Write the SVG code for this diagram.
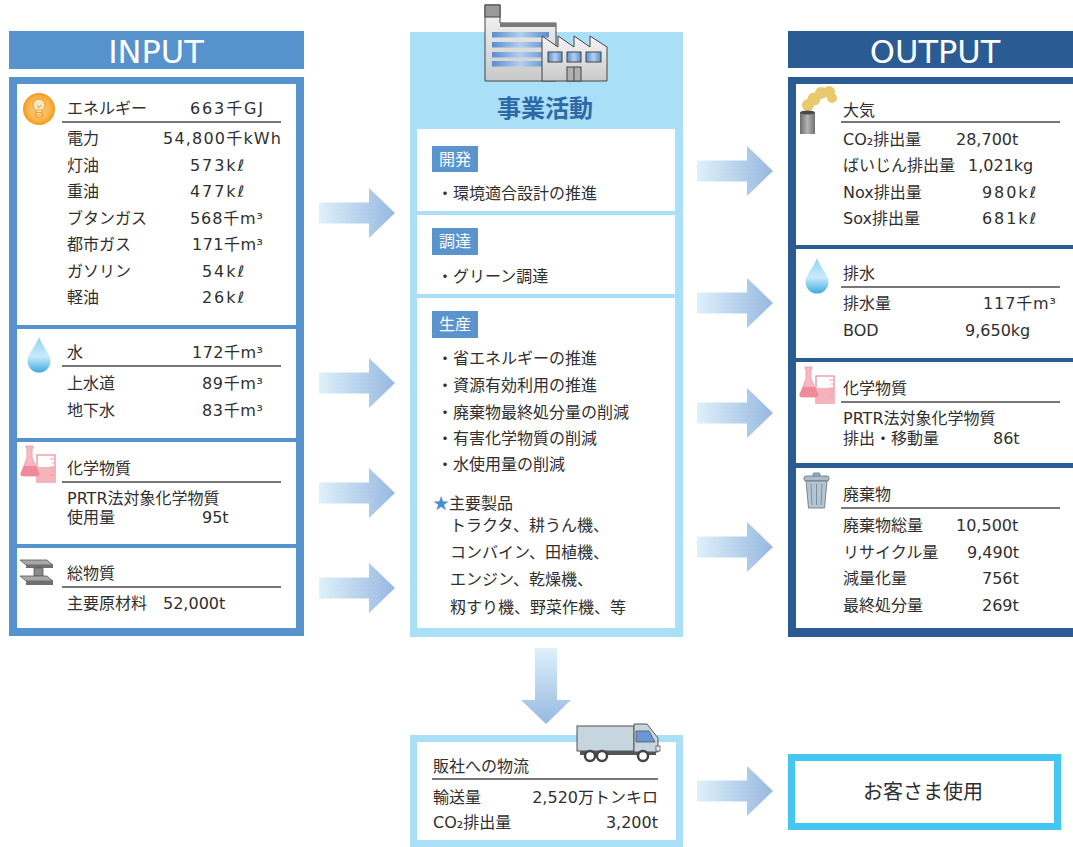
<svg xmlns="http://www.w3.org/2000/svg" width="1073" height="847" viewBox="0 0 1073 847">
  <style>
    .t { font-family: "DejaVu Sans", "Noto Sans CJK JP", sans-serif; font-size: 16px; fill: #2f2f2f; }
    .hd { font-family: "DejaVu Sans", "Noto Sans CJK JP", sans-serif; font-size: 32px; fill: #ffffff; text-anchor: middle; }
    .lbl { font-family: "Noto Sans CJK JP", sans-serif; font-size: 16px; fill: #ffffff; text-anchor: middle; }
    .rule { stroke: #4a4a4a; stroke-width: 1.3; }
    .in-panel { fill: #5692cc; }
    .out-panel { fill: #2b5b93; }
    .mid-panel { fill: #aadff8; }
    .box { fill: #ffffff; }
    .tag { fill: #5b93cc; }
  </style>
  <defs>
    <linearGradient id="gh" x1="0" y1="0" x2="1" y2="0">
      <stop offset="0" stop-color="#def1fb"/>
      <stop offset="1" stop-color="#97b8e0"/>
    </linearGradient>
    <linearGradient id="gv" x1="0" y1="0" x2="0" y2="1">
      <stop offset="0" stop-color="#def1fb"/>
      <stop offset="1" stop-color="#97b8e0"/>
    </linearGradient>
    <linearGradient id="dropG" x1="0" y1="0" x2="0" y2="1">
      <stop offset="0" stop-color="#8fd3f4"/>
      <stop offset="0.55" stop-color="#c8ebfb"/>
      <stop offset="1" stop-color="#3fa9de"/>
    </linearGradient>
    <radialGradient id="bulbG" cx="0.5" cy="0.5" r="0.5">
      <stop offset="0" stop-color="#fcd088"/>
      <stop offset="0.7" stop-color="#f8b548"/>
      <stop offset="1" stop-color="#f29a1c"/>
    </radialGradient>
    <linearGradient id="bldG" x1="0" y1="0" x2="0" y2="1">
      <stop offset="0" stop-color="#f6f6f6"/>
      <stop offset="1" stop-color="#c9c9c9"/>
    </linearGradient>
    <linearGradient id="winG" x1="0" y1="0" x2="1" y2="0">
      <stop offset="0" stop-color="#5a8ed0"/>
      <stop offset="0.5" stop-color="#b3cff0"/>
      <stop offset="1" stop-color="#5a8ed0"/>
    </linearGradient>
    <linearGradient id="chimG" x1="0" y1="0" x2="1" y2="0">
      <stop offset="0" stop-color="#6c6c6c"/>
      <stop offset="0.5" stop-color="#b4b4b4"/>
      <stop offset="1" stop-color="#707070"/>
    </linearGradient>
    <!-- flat arrow pointing right, origin at shaft start / centre line -->
    <path id="arr" d="M0,-10.5 H50 V-25 L76,0 L50,25 V10.5 H0 Z"/>
    <!-- water drop, origin at tip -->
    <path id="drop" d="M0,0 C-3,9 -11.5,17 -11.5,24 A11.5,11.5 0 0 0 11.5,24 C11.5,17 3,9 0,0 Z" fill="url(#dropG)"/>
    <!-- flask and beaker -->
    <g id="flask">
      <rect x="16" y="9" width="18" height="27" fill="#ffffff" stroke="#f1a0ab" stroke-width="1.5"/>
      <rect x="16" y="21" width="18" height="15" fill="#f5b3bc"/>
      <path d="M29,13 H34 M31,17 H34 M29,21 H34 M31,25 H34 M29,29 H34" stroke="#f1a0ab" stroke-width="1"/>
      <path d="M5,0 H12 V2 H11 V12 L18,27 Q19,30 16,30 H2 Q-1,30 0,27 L6,12 V2 H5 Z" fill="#f6b9c1" stroke="#f1a0ab" stroke-width="1"/>
      <path d="M3,20 H15 L18,27 Q19,30 16,30 H2 Q-1,30 0,27 Z" fill="#f08a98"/>
    </g>
  </defs>

  <!-- ===== INPUT column ===== -->
  <g id="input-header">
    <rect x="9" y="31" width="295" height="38" class="in-panel"/>
    <text x="156" y="63" class="hd">INPUT</text>
  </g>
  <rect x="9" y="77" width="295" height="559" class="in-panel"/>

  <g id="in-energy">
    <rect x="17" y="84" width="279" height="241" class="box"/>
    <circle cx="39" cy="109" r="16" fill="url(#bulbG)"/>
    <circle cx="39" cy="105" r="6" fill="#fde7bf" stroke="#e08a10" stroke-width="0.8"/>
    <rect x="36" y="110" width="6" height="7" rx="1" fill="#fde7bf" stroke="#e08a10" stroke-width="0.8"/>
    <path d="M36,112.5 H42 M36,115 H42 M37,105 L39,108 L41,105" stroke="#e08a10" stroke-width="0.8" fill="none"/>
    <text x="67" y="114" class="t">エネルギー</text>
    <text x="190" y="114" class="t" textLength="73" lengthAdjust="spacing">663千GJ</text>
    <line x1="62" y1="122" x2="281" y2="122" class="rule"/>
    <text x="67" y="144" class="t">電力</text>
    <text x="163" y="144" class="t" textLength="118" lengthAdjust="spacing">54,800千kWh</text>
    <text x="67" y="171" class="t">灯油</text>
    <text x="190" y="171" class="t" textLength="54" lengthAdjust="spacing">573kℓ</text>
    <text x="67" y="197" class="t">重油</text>
    <text x="190" y="197" class="t" textLength="54" lengthAdjust="spacing">477kℓ</text>
    <text x="67" y="224" class="t">ブタンガス</text>
    <text x="190" y="224" class="t" textLength="73" lengthAdjust="spacing">568千m³</text>
    <text x="67" y="250" class="t">都市ガス</text>
    <text x="192" y="250" class="t" textLength="71" lengthAdjust="spacing">171千m³</text>
    <text x="67" y="277" class="t">ガソリン</text>
    <text x="202" y="277" class="t" textLength="42" lengthAdjust="spacing">54kℓ</text>
    <text x="67" y="303" class="t">軽油</text>
    <text x="202" y="303" class="t" textLength="42" lengthAdjust="spacing">26kℓ</text>
  </g>

  <g id="in-water">
    <rect x="17" y="329" width="279" height="109" class="box"/>
    <use href="#drop" transform="translate(39,337)"/>
    <text x="67" y="358" class="t">水</text>
    <text x="192" y="358" class="t" textLength="71" lengthAdjust="spacing">172千m³</text>
    <line x1="62" y1="366" x2="281" y2="366" class="rule"/>
    <text x="67" y="389" class="t">上水道</text>
    <text x="202" y="389" class="t" textLength="61" lengthAdjust="spacing">89千m³</text>
    <text x="67" y="416" class="t">地下水</text>
    <text x="202" y="416" class="t" textLength="61" lengthAdjust="spacing">83千m³</text>
  </g>

  <g id="in-chemical">
    <rect x="17" y="442" width="279" height="102" class="box"/>
    <use href="#flask" transform="translate(21,446)"/>
    <text x="67" y="474" class="t">化学物質</text>
    <line x1="62" y1="482" x2="281" y2="482" class="rule"/>
    <text x="67" y="504" class="t">PRTR法対象化学物質</text>
    <text x="67" y="523" class="t">使用量</text>
    <text x="202" y="523" class="t">95t</text>
  </g>

  <g id="in-material">
    <rect x="17" y="548" width="279" height="80" class="box"/>
    <polygon points="20,560 47,560 53,565 26,565" fill="#a8a8a8" stroke="#5a5a5a" stroke-width="0.8"/>
    <rect x="26" y="565" width="27" height="3" fill="#6f6f6f"/>
    <rect x="34" y="568" width="9" height="8" fill="#8a8a8a" stroke="#5a5a5a" stroke-width="0.8"/>
    <polygon points="20,576 47,576 53,581 26,581" fill="#a8a8a8" stroke="#5a5a5a" stroke-width="0.8"/>
    <rect x="26" y="581" width="27" height="4" fill="#6f6f6f"/>
    <text x="67" y="579" class="t">総物質</text>
    <line x1="62" y1="587" x2="281" y2="587" class="rule"/>
    <text x="67" y="609" class="t">主要原材料</text>
    <text x="163" y="609" class="t">52,000t</text>
  </g>

  <!-- ===== Business activities column ===== -->
  <g id="activities">
    <rect x="410" y="32" width="273" height="605" class="mid-panel"/>
    <!-- factory -->
    <path d="M485,5 H500 V23 H556 V81 H485 Z" fill="url(#bldG)" stroke="#444" stroke-width="1"/>
    <rect x="485" y="5" width="15" height="12" fill="#999" stroke="#444" stroke-width="1"/>
    <rect x="500" y="23" width="56" height="4" fill="#7a7a7a"/>
    <rect x="492" y="32" width="57" height="5.5" fill="url(#winG)"/>
    <rect x="492" y="42" width="57" height="5.5" fill="url(#winG)"/>
    <rect x="492" y="52" width="57" height="5.5" fill="url(#winG)"/>
    <rect x="492" y="61" width="57" height="5.5" fill="url(#winG)"/>
    <path d="M542,81 V36 L558,47 V36 L574,47 V36 L590,47 V36 L607,47 V81 Z" fill="url(#bldG)" stroke="#444" stroke-width="1"/>
    <rect x="548" y="52" width="14" height="10" fill="url(#winG)" stroke="#444" stroke-width="1"/>
    <rect x="567" y="52" width="14" height="10" fill="url(#winG)" stroke="#444" stroke-width="1"/>
    <rect x="586" y="52" width="15" height="10" fill="url(#winG)" stroke="#444" stroke-width="1"/>
    <rect x="567" y="67" width="14" height="14" fill="#b0b0b0" stroke="#444" stroke-width="1"/>
    <line x1="574" y1="67" x2="574" y2="81" stroke="#444" stroke-width="1"/>
    <text x="545" y="117" font-family="Noto Sans CJK JP, sans-serif" font-size="24" font-weight="bold" fill="#2d69a6" text-anchor="middle">事業活動</text>

    <rect x="417" y="129" width="258" height="82" class="box"/>
    <rect x="432" y="146" width="46" height="26" class="tag"/>
    <text x="455" y="165" class="lbl">開発</text>
    <text x="437" y="199" class="t">・環境適合設計の推進</text>

    <rect x="417" y="215" width="258" height="79" class="box"/>
    <rect x="432" y="228" width="46" height="27" class="tag"/>
    <text x="455" y="247" class="lbl">調達</text>
    <text x="437" y="282" class="t">・グリーン調達</text>

    <rect x="417" y="298" width="258" height="330" class="box"/>
    <rect x="432" y="311" width="46" height="27" class="tag"/>
    <text x="455" y="330" class="lbl">生産</text>
    <text x="437" y="364" class="t">・省エネルギーの推進</text>
    <text x="437" y="391" class="t">・資源有効利用の推進</text>
    <text x="437" y="418" class="t">・廃棄物最終処分量の削減</text>
    <text x="437" y="444" class="t">・有害化学物質の削減</text>
    <text x="437" y="470" class="t">・水使用量の削減</text>
    <text x="433" y="509" class="t"><tspan fill="#4c8bd0" font-family="Noto Sans CJK JP, sans-serif">★</tspan>主要製品</text>
    <text x="450" y="531" class="t">トラクタ、耕うん機、</text>
    <text x="450" y="558" class="t">コンバイン、田植機、</text>
    <text x="450" y="585" class="t">エンジン、乾燥機、</text>
    <text x="450" y="613" class="t">籾すり機、野菜作機、等</text>
  </g>

  <!-- ===== OUTPUT column ===== -->
  <g id="output-header">
    <rect x="788" y="31" width="295" height="37" class="out-panel"/>
    <text x="935" y="63" class="hd">OUTPUT</text>
  </g>
  <rect x="788" y="77" width="295" height="560" class="out-panel"/>

  <g id="out-air">
    <rect x="796" y="84" width="287" height="161" class="box"/>
    <circle cx="808" cy="105" r="6" fill="#e9c96c"/>
    <circle cx="814" cy="99" r="6.5" fill="#e9c96c"/>
    <circle cx="821" cy="93" r="6" fill="#e9c96c"/>
    <circle cx="829" cy="92" r="6" fill="#e9c96c"/>
    <circle cx="832" cy="98" r="5" fill="#e9c96c"/>
    <rect x="800" y="112" width="15" height="22" fill="url(#chimG)"/>
    <ellipse cx="807.5" cy="112.5" rx="7.5" ry="2" fill="#4a4a4a"/>
    <text x="843" y="116" class="t">大気</text>
    <line x1="841" y1="122" x2="1060" y2="122" class="rule"/>
    <text x="843" y="145" class="t">CO₂排出量</text>
    <text x="956" y="145" class="t">28,700t</text>
    <text x="843" y="171" class="t">ばいじん排出量</text>
    <text x="968" y="171" class="t">1,021kg</text>
    <text x="843" y="198" class="t">Nox排出量</text>
    <text x="982" y="198" class="t" textLength="54" lengthAdjust="spacing">980kℓ</text>
    <text x="843" y="224" class="t">Sox排出量</text>
    <text x="982" y="224" class="t" textLength="54" lengthAdjust="spacing">681kℓ</text>
  </g>

  <g id="out-water">
    <rect x="796" y="249" width="287" height="109" class="box"/>
    <use href="#drop" transform="translate(817,258)"/>
    <text x="843" y="279" class="t">排水</text>
    <line x1="841" y1="287" x2="1060" y2="287" class="rule"/>
    <text x="843" y="309" class="t">排水量</text>
    <text x="983" y="309" class="t" textLength="73" lengthAdjust="spacing">117千m³</text>
    <text x="843" y="336" class="t">BOD</text>
    <text x="965" y="336" class="t">9,650kg</text>
  </g>

  <g id="out-chemical">
    <rect x="796" y="362" width="287" height="101" class="box"/>
    <use href="#flask" transform="translate(800,367)"/>
    <text x="843" y="394" class="t">化学物質</text>
    <line x1="841" y1="402" x2="1060" y2="402" class="rule"/>
    <text x="843" y="424" class="t">PRTR法対象化学物質</text>
    <text x="843" y="444" class="t">排出・移動量</text>
    <text x="993" y="444" class="t">86t</text>
  </g>

  <g id="out-waste">
    <rect x="796" y="468" width="287" height="160" class="box"/>
    <rect x="813" y="473" width="7" height="3.5" rx="1" fill="#9fb3bf" stroke="#5f717c" stroke-width="0.8"/>
    <rect x="804" y="476" width="25" height="5" rx="2" fill="#aabdc9" stroke="#5f717c" stroke-width="0.8"/>
    <path d="M806,481 L808.5,508 H824.5 L827,481 Z" fill="#b3c5d0" stroke="#5f717c" stroke-width="0.8"/>
    <path d="M811,484 L812,505 M816.5,484 V505 M822,484 L821,505" stroke="#7d909b" stroke-width="1"/>
    <text x="843" y="500" class="t">廃棄物</text>
    <line x1="841" y1="508" x2="1060" y2="508" class="rule"/>
    <text x="843" y="531" class="t">廃棄物総量</text>
    <text x="956" y="531" class="t">10,500t</text>
    <text x="843" y="558" class="t">リサイクル量</text>
    <text x="967" y="558" class="t">9,490t</text>
    <text x="843" y="584" class="t">減量化量</text>
    <text x="982" y="584" class="t">756t</text>
    <text x="843" y="611" class="t">最終処分量</text>
    <text x="982" y="611" class="t">269t</text>
  </g>

  <!-- ===== Distribution ===== -->
  <g id="distribution">
    <rect x="410" y="735" width="273" height="112" class="mid-panel"/>
    <rect x="417" y="742" width="259" height="98" class="box"/>
    <!-- truck -->
    <rect x="577" y="726" width="57" height="25" fill="#c6d5de" stroke="#555" stroke-width="1"/>
    <rect x="580" y="751" width="76" height="4" fill="#555"/>
    <path d="M634,724 H647 L658,738 V752 H634 Z" fill="#c6d5de" stroke="#555" stroke-width="1"/>
    <polygon points="636,731 649,731 655,742 636,742" fill="#6a98d6" stroke="#555" stroke-width="0.8"/>
    <rect x="656" y="746" width="4" height="5" fill="#eee" stroke="#555" stroke-width="0.8"/>
    <circle cx="590" cy="756" r="5" fill="#fff" stroke="#444" stroke-width="2.5"/>
    <circle cx="602" cy="756" r="5" fill="#fff" stroke="#444" stroke-width="2.5"/>
    <circle cx="643" cy="756" r="5" fill="#fff" stroke="#444" stroke-width="2.5"/>
    <text x="433" y="772" class="t">販社への物流</text>
    <line x1="432" y1="779" x2="658" y2="779" class="rule"/>
    <text x="433" y="803" class="t">輸送量</text>
    <text x="658" y="803" class="t" text-anchor="end">2,520万トンキロ</text>
    <text x="433" y="828" class="t">CO₂排出量</text>
    <text x="658" y="828" class="t" text-anchor="end">3,200t</text>
  </g>

  <g id="customer">
    <rect x="791.5" y="757.5" width="266" height="69" fill="#ffffff" stroke="#44c6f2" stroke-width="7"/>
    <text x="923" y="799" font-family="Noto Sans CJK JP, sans-serif" font-size="20" fill="#2f2f2f" text-anchor="middle">お客さま使用</text>
  </g>

  <!-- ===== Flow arrows ===== -->
  <g id="connectors">
    <use href="#arr" fill="url(#gh)" transform="translate(319,213)"/>
    <use href="#arr" fill="url(#gh)" transform="translate(319,383)"/>
    <use href="#arr" fill="url(#gh)" transform="translate(319,493)"/>
    <use href="#arr" fill="url(#gh)" transform="translate(319,588)"/>
    <use href="#arr" fill="url(#gh)" transform="translate(697,171)"/>
    <use href="#arr" fill="url(#gh)" transform="translate(697,303)"/>
    <use href="#arr" fill="url(#gh)" transform="translate(697,413)"/>
    <use href="#arr" fill="url(#gh)" transform="translate(697,547)"/>
    <use href="#arr" fill="url(#gh)" transform="translate(697,791)"/>
    <path d="M535,648 H557 V700 H571 L546,724 L521,700 H535 Z" fill="url(#gv)"/>
  </g>
</svg>
